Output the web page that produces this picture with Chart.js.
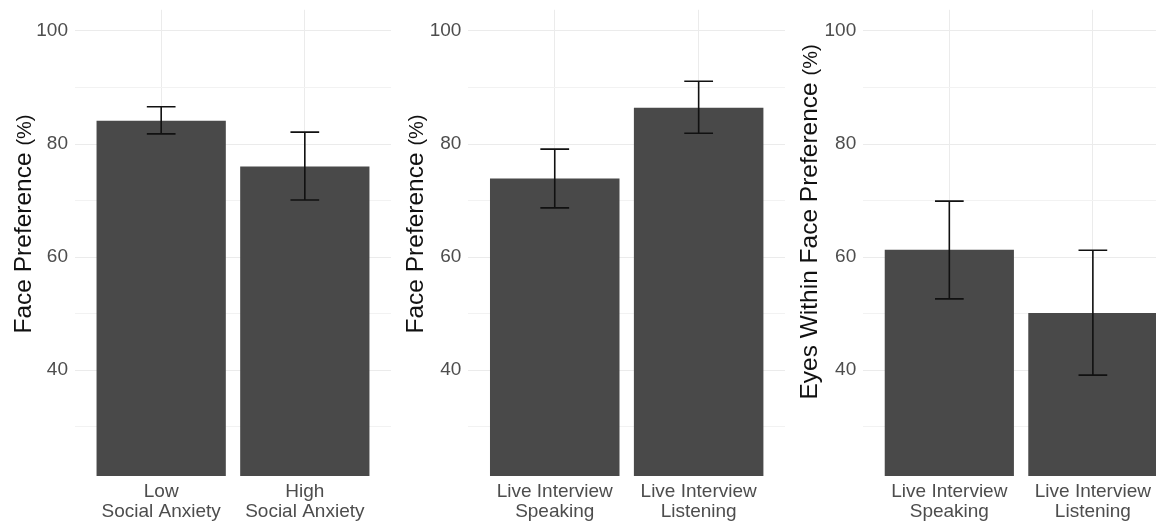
<!DOCTYPE html>
<html>
<head>
<meta charset="utf-8">
<script src="https://cdn.jsdelivr.net/npm/chart.js@4.4.1/dist/chart.umd.min.js"></script>
<style>
  html, body { margin: 0; padding: 0; background: #fff; width: 1156px; height: 523px; overflow: hidden; }
  .panel { position: absolute; top: 0; height: 523px; }
</style>
</head>
<body>
<div class="panel" style="left:0px"><canvas id="anxietyChart" width="391" height="523"></canvas></div>
<div class="panel" style="left:390px"><canvas id="phaseFaceChart" width="395" height="523"></canvas></div>
<div class="panel" style="left:784px"><canvas id="phaseEyesChart" width="395" height="523"></canvas></div>
<script>
// ---- data ----
const anxietyGroups = [["Low", "Social Anxiety"], ["High", "Social Anxiety"]];
const anxietyFace = [84.1, 76.0];
const anxietyFaceLow = [81.8, 70.1];
const anxietyFaceHigh = [86.6, 82.1];

const interviewPhases = [["Live Interview", "Speaking"], ["Live Interview", "Listening"]];
const phaseFace = [73.9, 86.4];
const phaseFaceLow = [68.7, 81.9];
const phaseFaceHigh = [79.1, 91.1];

const phaseEyes = [61.3, 50.1];
const phaseEyesLow = [52.6, 39.1];
const phaseEyesHigh = [69.9, 61.2];

const yGridValues = [30, 40, 50, 60, 70, 80, 90, 100];
const yLabelValues = [40, 60, 80, 100];
const Y_MIN = 21.25, Y_MAX = 103.75;

const FONT = '"Liberation Sans", Arial, Helvetica, sans-serif';

// vertical error bars with caps, positioned through the chart scales
const errorBarPlugin = {
  id: 'errorBars',
  afterDatasetsDraw(chart, args, opts) {
    const { ctx, scales: { x, y } } = chart;
    ctx.save();
    ctx.strokeStyle = opts.color;
    ctx.lineWidth = opts.width;
    opts.low.forEach((lo, i) => {
      const xc = x.getPixelForValue(i + 1);
      const half = x.getPixelForValue(i + 1 + opts.cap) - xc;
      const yl = y.getPixelForValue(lo);
      const yh = y.getPixelForValue(opts.high[i]);
      ctx.beginPath();
      ctx.moveTo(xc, yl); ctx.lineTo(xc, yh);
      ctx.moveTo(xc - half, yl); ctx.lineTo(xc + half, yl);
      ctx.moveTo(xc - half, yh); ctx.lineTo(xc + half, yh);
      ctx.stroke();
    });
    ctx.restore();
  }
};

// rotated axis title: main text plus a smaller unit part
const sideTitlePlugin = {
  id: 'sideTitle',
  afterDraw(chart, args, opts) {
    const ctx = chart.ctx;
    ctx.save();
    ctx.fillStyle = opts.color;
    ctx.textBaseline = 'alphabetic';
    ctx.textAlign = 'left';
    const bigFont = opts.size + 'px ' + FONT;
    const smallFont = opts.unitSize + 'px ' + FONT;
    ctx.font = bigFont;
    const w1 = ctx.measureText(opts.text + ' ').width;
    ctx.font = smallFont;
    const w2 = ctx.measureText(opts.unit).width;
    ctx.translate(opts.x, opts.y);
    ctx.rotate(-Math.PI / 2);
    const start = -(w1 + w2) / 2;
    ctx.font = bigFont;
    ctx.fillText(opts.text + ' ', start, 0);
    ctx.font = smallFont;
    ctx.fillText(opts.unit, start + w1, 0);
    ctx.restore();
  }
};

function drawPanel(id, cfg) {
  return new Chart(document.getElementById(id), {
    type: 'bar',
    data: {
      datasets: [{
        data: cfg.values.map((v, i) => ({ x: i + 1, y: v })),
        backgroundColor: '#494949',
        borderWidth: 0,
        categoryPercentage: 1,
        barPercentage: 0.9
      }]
    },
    plugins: [errorBarPlugin, sideTitlePlugin],
    options: {
      responsive: false,
      animation: false,
      events: [],
      layout: { padding: { top: 9.8, left: 0, right: 0, bottom: 0 } },
      plugins: {
        legend: { display: false },
        tooltip: { enabled: false },
        errorBars: { low: cfg.low, high: cfg.high, cap: 0.1, color: '#111111', width: 1.6 },
        sideTitle: { text: cfg.title, unit: '(%)', size: 24.5, unitSize: 20, color: '#111111', x: cfg.titleX, y: cfg.titleY }
      },
      scales: {
        x: {
          type: 'linear',
          min: 0.4,
          max: 2.6,
          offset: false,
          border: { display: false },
          grid: { offset: false, color: '#EBEBEB', lineWidth: 1, drawTicks: false },
          afterBuildTicks: s => { s.ticks = cfg.labels.map((_, i) => ({ value: i + 1 })); },
          afterFit: s => { s.height = 47; s.paddingLeft = 0; s.paddingRight = 0; },
          ticks: {
            autoSkip: false,
            maxRotation: 0,
            minRotation: 0,
            padding: 6,
            color: '#4D4D4D',
            font: { family: FONT, size: 19, lineHeight: 1.05 },
            callback: v => cfg.labels[v - 1]
          }
        },
        y: {
          min: Y_MIN,
          max: Y_MAX,
          border: { display: false },
          grid: {
            drawTicks: false,
            lineWidth: 1,
            color: c => (c.tick && c.tick.value % 20 === 0) ? '#EBEBEB' : '#F2F2F2'
          },
          afterBuildTicks: s => { s.ticks = yGridValues.map(v => ({ value: v })); },
          afterFit: s => { s.width = cfg.axisWidth; s.paddingTop = 0; s.paddingBottom = 0; },
          ticks: {
            autoSkip: false,
            padding: 7,
            color: '#4D4D4D',
            font: { family: FONT, size: 19 },
            callback: v => yLabelValues.includes(v) ? String(v) : ''
          }
        }
      }
    }
  });
}

drawPanel('anxietyChart', {
  labels: anxietyGroups, values: anxietyFace, low: anxietyFaceLow, high: anxietyFaceHigh,
  title: 'Face Preference', axisWidth: 75, titleX: 31, titleY: 224
});
drawPanel('phaseFaceChart', {
  labels: interviewPhases, values: phaseFace, low: phaseFaceLow, high: phaseFaceHigh,
  title: 'Face Preference', axisWidth: 78.4, titleX: 32.5, titleY: 224
});
drawPanel('phaseEyesChart', {
  labels: interviewPhases, values: phaseEyes, low: phaseEyesLow, high: phaseEyesHigh,
  title: 'Eyes Within Face Preference', axisWidth: 79.2, titleX: 32.5, titleY: 222
});
</script>
</body>
</html>
